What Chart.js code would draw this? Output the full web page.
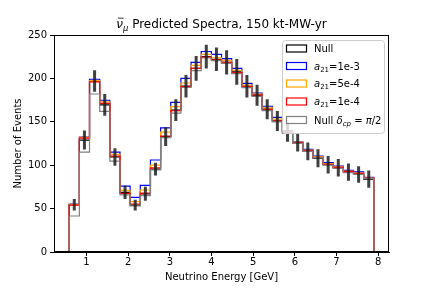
<!DOCTYPE html>
<html>
<head>
<meta charset="utf-8">
<script src="https://cdn.jsdelivr.net/npm/chart.js@4/dist/chart.umd.min.js"></script>
<style>
  html, body { margin: 0; padding: 0; background: #fff; }
</style>
</head>
<body>
<canvas id="spectra" width="432" height="288"></canvas>
<script>
// energy binning (GeV)
const binStart = 0.585;
const binWidth = 0.2437;
const xTicks = [1, 2, 3, 4, 5, 6, 7, 8];
const yTicks = [0, 50, 100, 150, 200, 250];

// events per bin
const nullCounts = [54.5, 129, 197, 169.5, 109.5, 68.7, 54, 67, 95.5, 133,
  163.5, 191, 211.5, 225, 222, 218.5, 207.5, 191, 180.5, 164.5,
  151, 138, 126, 116, 108, 100.5, 97, 92, 89.3, 84];
const nullErrors = [6.7, 11, 12.5, 12.5, 10, 7.7, 6.2, 8.1, 7.3, 10.8,
  12.5, 13, 14.2, 13.7, 13.5, 14, 14.8, 13, 12.1, 11.5,
  11.5, 11, 10.2, 10.2, 10.3, 10, 10.1, 10, 9.5, 10];
const a21_1e3 = [55.3, 132.5, 199, 174.8, 115, 76, 63, 76.8, 106, 143,
  172.4, 200, 218.5, 231, 227.7, 222.7, 211.6, 194.3, 183.2, 167.9,
  155, 140, 127, 118.3, 110.5, 102.9, 99, 94.1, 92.2, 86];
const a21_5e4 = [54.8, 132, 197.4, 173, 112.5, 71, 58, 71.4, 100.2, 138,
  167.4, 194.7, 215, 227.7, 223.8, 220.8, 209.3, 192.4, 182, 166,
  153, 139, 126.5, 117.5, 109.8, 101.8, 98, 93.2, 91, 85.5];
const a21_1e4 = [54, 131.3, 196, 171.3, 110.5, 67.6, 55.3, 68, 97, 133.6,
  162.8, 190.5, 211.6, 224.6, 221.5, 218.5, 206.6, 190.5, 181, 164.4,
  151.5, 138.5, 126, 116.8, 109, 101, 97.5, 93, 90.5, 85.2];
const nullDcpHalfPi = [41.5, 115, 182, 162, 104.8, 65.7, 53, 65, 94.5, 131.7,
  160, 189.5, 209, 223.5, 220.4, 217.4, 205.4, 189.3, 179.4, 162.8,
  150, 137, 125.2, 116, 108.7, 100.2, 96.4, 91.4, 89.5, 84.9];

const FONT = '"DejaVu Sans", sans-serif';

const edges = [];
for (let i = 0; i <= nullCounts.length; i++) edges.push(binStart + i * binWidth);

// outline of a step histogram, closed down to zero at both ends
function stepPoints(vals) {
    const pts = [{ x: edges[0], y: 0 }];
    vals.forEach((v, i) => pts.push({ x: edges[i], y: v }));
    pts.push({ x: edges[vals.length], y: vals[vals.length - 1] });
    pts.push({ x: edges[vals.length], y: 0 });
    return pts;
}

function errorPoints(vals, errs) {
    const pts = [];
    vals.forEach((v, i) => {
        const c = (edges[i] + edges[i + 1]) / 2;
        pts.push({ x: c, y: v - errs[i] }, { x: c, y: v + errs[i] }, { x: c, y: null });
    });
    return pts;
}

function stepSet(label, vals, color, order) {
    return {
        label: label,
        data: stepPoints(vals),
        borderColor: color,
        borderWidth: 1.2,
        stepped: 'before',
        pointRadius: 0,
        fill: false,
        order: order
    };
}

// small rich-text helper for the math bits (italic, subscript, overline)
function drawRuns(ctx, runs, x, y, size, measureOnly) {
    let cx = x;
    runs.forEach(r => {
        const fs = r.sub ? size * 0.7 : size;
        ctx.font = (r.it ? 'italic ' : '') + fs + 'px ' + FONT;
        const w = ctx.measureText(r.t).width;
        if (!measureOnly) {
            ctx.fillText(r.t, cx, y + (r.sub ? size * 0.22 : 0));
            if (r.bar) {
                ctx.beginPath();
                ctx.lineWidth = 0.8;
                ctx.moveTo(cx + 1.5, y - size * 0.82);
                ctx.lineTo(cx + w + 0.5, y - size * 0.82);
                ctx.stroke();
            }
        }
        cx += w;
    });
    return cx - x;
}

const titleRuns = [
    { t: 'ν', it: true, bar: true },
    { t: 'μ', it: true, sub: true },
    { t: ' Predicted Spectra, 150 kt-MW-yr' }
];

const legendItems = [
    { color: '#000000', runs: [{ t: 'Null' }] },
    { color: '#0000ff', runs: [{ t: 'a', it: true }, { t: '21', sub: true }, { t: '=1e-3' }] },
    { color: '#ffa500', runs: [{ t: 'a', it: true }, { t: '21', sub: true }, { t: '=5e-4' }] },
    { color: '#ff0000', runs: [{ t: 'a', it: true }, { t: '21', sub: true }, { t: '=1e-4' }] },
    { color: '#808080', runs: [{ t: 'Null ' }, { t: 'δ', it: true }, { t: 'cp', it: true, sub: true }, { t: ' = ' }, { t: 'π', it: true }, { t: '/2' }] }
];

const decorations = {
    id: 'decorations',
    afterDatasetsDraw(chart) {
        const { ctx, chartArea: a } = chart;
        ctx.save();
        ctx.strokeStyle = '#000';
        ctx.lineWidth = 1;
        ctx.strokeRect(a.left + 0.5, a.top + 0.5, a.right - a.left - 1, a.bottom - a.top - 1);
        ctx.restore();
    },
    afterDraw(chart) {
        const { ctx, chartArea: a } = chart;
        ctx.save();
        ctx.fillStyle = '#000';
        ctx.strokeStyle = '#000';
        ctx.textBaseline = 'alphabetic';

        // title
        const tw = drawRuns(ctx, titleRuns, 0, 0, 12, true);
        drawRuns(ctx, titleRuns, (a.left + a.right) / 2 - tw / 2, 28, 12, false);

        // legend
        const lx = 282, ly = 40, lw = a.right - 5 - lx, lh = 93;
        ctx.beginPath();
        ctx.roundRect(lx + 0.5, ly + 0.5, lw, lh, 3);
        ctx.fillStyle = 'rgba(255,255,255,0.8)';
        ctx.fill();
        ctx.strokeStyle = '#cccccc';
        ctx.lineWidth = 1;
        ctx.stroke();

        const rows = [48.5, 66, 83.5, 101.5, 120];
        legendItems.forEach((item, i) => {
            const cy = rows[i];
            ctx.strokeStyle = item.color;
            ctx.lineWidth = 1.2;
            ctx.strokeRect(286.5, cy - 3.5, 20, 7);
            ctx.fillStyle = '#000';
            drawRuns(ctx, item.runs, 314, cy + 3.6, 10, false);
        });
        ctx.restore();
    }
};

const tickFont = { family: FONT, size: 10 };

new Chart(document.getElementById('spectra').getContext('2d'), {
    type: 'line',
    data: {
        datasets: [
            {
                label: 'Null errors',
                data: errorPoints(nullCounts, nullErrors),
                borderColor: 'rgba(30,30,30,0.85)',
                borderWidth: 3,
                borderCapStyle: 'butt',
                pointRadius: 0,
                spanGaps: false,
                fill: false,
                order: 0
            },
            stepSet('Null δcp = π/2', nullDcpHalfPi, '#808080', 1),
            stepSet('a21=1e-4', a21_1e4, '#ff0000', 2),
            stepSet('a21=5e-4', a21_5e4, '#ffa500', 3),
            stepSet('a21=1e-3', a21_1e3, '#0000ff', 4),
            stepSet('Null', nullCounts, '#000000', 5)
        ]
    },
    options: {
        responsive: false,
        animation: false,
        layout: { padding: { top: 35, right: 43, bottom: 0, left: 0 } },
        plugins: {
            legend: { display: false },
            title: { display: false },
            tooltip: { enabled: false }
        },
        scales: {
            x: {
                type: 'linear',
                min: 0.22,
                max: 8.26,
                afterBuildTicks: s => { s.ticks = xTicks.map(v => ({ value: v })); },
                afterFit: s => { s.height = 36; },
                ticks: { color: '#000', font: tickFont, padding: 0, maxRotation: 0 },
                grid: { display: true, drawOnChartArea: false, drawTicks: true, tickLength: 4, color: '#000' },
                border: { display: true, color: '#000', width: 1 },
                title: {
                    display: true, text: 'Neutrino Energy [GeV]', color: '#000',
                    font: tickFont, padding: { top: 0, bottom: 5 }
                }
            },
            y: {
                min: 0,
                max: 250,
                afterBuildTicks: s => { s.ticks = yTicks.map(v => ({ value: v })); },
                afterFit: s => { s.width = 54; },
                ticks: { color: '#000', font: tickFont, padding: 3 },
                grid: { display: true, drawOnChartArea: false, drawTicks: true, tickLength: 4, color: '#000' },
                border: { display: true, color: '#000', width: 1 },
                title: {
                    display: true, text: 'Number of Events', color: '#000',
                    font: tickFont, padding: { top: 12, bottom: 0 }
                }
            }
        }
    },
    plugins: [decorations]
});
</script>
</body>
</html>
